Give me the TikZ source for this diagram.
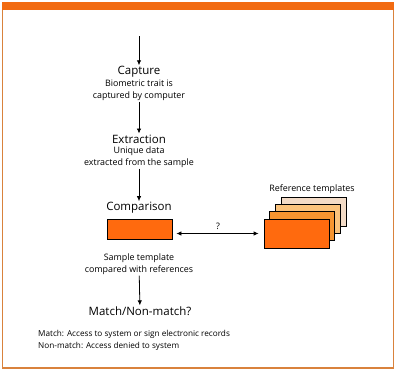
\documentclass[tikz,border=0pt]{standalone}
\usepackage{fontspec}
\setmainfont{Open Sans}
\usepackage{tikz}
\usetikzlibrary{arrows.meta,positioning}
\definecolor{FrameOrange}{HTML}{F26B12}
\definecolor{FrameEdge}{HTML}{D9823C}
\definecolor{TplA}{HTML}{FF6A0E}
\definecolor{TplB}{HTML}{F79530}
\definecolor{TplC}{HTML}{FBC37C}
\definecolor{TplD}{HTML}{F3DBC6}

\begin{document}
\begin{tikzpicture}[
x=1pt,y=-1pt,
steptitle/.style={inner sep=1pt,font=\fontsize{11.5}{13}\selectfont},
stepdesc/.style={inner sep=1pt,align=center,font=\fontsize{8.9}{12}\selectfont},
tplbox/.style={draw,line width=0.8pt,minimum width=65pt,minimum height=29pt,inner sep=0pt},
arr/.style={-{Latex[length=5pt,width=4.5pt]},line width=0.8pt}
]
\useasboundingbox (0,0) rectangle (397,372);
% frame
\draw[FrameEdge,line width=1.2pt] (2.5,2.5) rectangle (393.5,368);
\fill[FrameOrange] (2,2) rectangle (394,9.5);

% main chain
\coordinate (start) at (139,36);
\node[steptitle] (capture) at (139,72) {Capture};
\node[stepdesc] (capdesc) at (139,90) {Biometric trait is\\captured by computer};
\node[steptitle] (extract) at (139,139) {Extraction};
\node[stepdesc] (extdesc) at (139,157) {Unique data\\extracted from the sample};
\node[steptitle] (compare) at (139,208) {Comparison};
\node[tplbox,fill=TplA,minimum height=20pt] (sample) at (139.5,229) {};
\node[stepdesc] (sampdesc) at (139,264) {Sample template\\compared with references};
\node[steptitle] (match) at (140,311) {Match/Non-match?};
\node[stepdesc,align=left,anchor=west,font=\fontsize{8.2}{12.5}\selectfont] (matchdesc) at (37,340.5)
  {Match: Access to system or sign electronic records\\Non-match: Access denied to system};

% reference templates
\foreach \i/\col in {3/TplD,2/TplC,1/TplB,0/TplA}
  \node[tplbox,fill=\col] (tpl\i) at (296.5+5.7*\i,233.5-7.3*\i) {};
\node[stepdesc] (reflabel) at (312,189) {Reference templates};

\draw[arr] (start) -- (capture);
\draw[arr] (capdesc) -- (extract);
\draw[arr] (extdesc) -- (compare);
\draw[arr] (sampdesc) -- (match);
\draw[arr,{Latex[length=5pt,width=4.5pt]}-{Latex[length=5pt,width=4.5pt]},shorten <=4pt,shorten >=5pt]
  (sample.east |- tpl0.west) -- node[above=2pt,stepdesc] {?} (tpl0.west);
\end{tikzpicture}
\end{document}
